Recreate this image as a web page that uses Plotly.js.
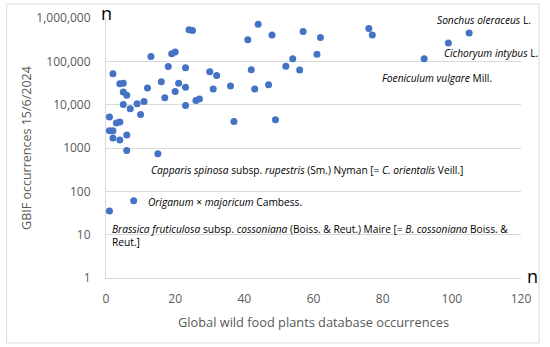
<!DOCTYPE html>
<html>
<head>
<meta charset="utf-8">
<script src="https://cdn.plot.ly/plotly-3.0.1.min.js"></script>
<style>
html,body{margin:0;padding:0;background:#fff;}
#chart{width:550px;height:347px;}
</style>
</head>
<body>
<div id="chart"></div>
<script>
// Global wild food plants database occurrences (x) vs GBIF occurrences (y)
const wfpOccurrences = [1, 1, 2, 2, 2, 3, 4, 4, 4, 5, 5, 6, 5, 6, 6, 7, 9, 10, 11, 12, 13, 15, 16, 17, 18, 19, 20, 20, 21, 23, 23, 23, 24, 25, 26, 27, 30, 31, 32, 36, 37, 41, 42, 43, 44, 47, 48, 49, 52, 54, 56, 57, 61, 62, 76, 77, 92, 99, 105, 8, 1];
const gbifOccurrences = [5200, 2500, 2500, 1700, 52000, 3800, 4000, 1530, 30500, 31000, 19600, 16500, 10100, 2000, 870, 8100, 10500, 5900, 11900, 24300, 130000, 740, 34000, 14500, 76000, 150000, 164000, 20000, 31000, 71000, 25300, 9600, 537000, 518000, 12400, 13500, 57700, 23000, 47400, 27000, 4100, 316000, 64000, 23000, 713000, 29000, 405000, 4500, 77000, 115000, 63000, 489000, 145000, 355000, 576000, 405000, 115000, 265000, 451000, 61, 35];

const yTickVals = [1, 10, 100, 1000, 10000, 100000, 1000000];
const yTickText = ["1", "10", "100", "1000", "10,000", "100,000", "1,000,000"];
const xTickVals = [0, 20, 40, 60, 80, 100, 120];

const labelTexts = [
  "<i>Sonchus oleraceus</i> L.",
  "<i>Cichoryum intybus</i> L.",
  "<i>Foeniculum vulgare</i> Mill.",
  "<i>Capparis spinosa</i> subsp. <i>rupestris</i> (Sm.) Nyman [= <i>C. orientalis</i> Veill.]",
  "<i>Origanum</i> × <i>majoricum</i> Cambess.",
  "<i>Brassica fruticulosa</i> subsp. <i>cossoniana</i> (Boiss. & Reut.) Maire [= <i>B. cossoniana</i> Boiss. &<br>Reut.]"
];
const labelX = [95.1, 97.1, 79.2, 12.5, 11.5, 1.1];
const labelLogY = [5.945, 5.193, 4.616, 2.499, 1.754, 0.976];

const fontFam = "Open Sans, sans-serif";
const annotations = labelTexts.map((t, i) => ({
  text: t, x: labelX[i], y: labelLogY[i], xref: "x", yref: "y",
  xanchor: "left", yanchor: "middle", align: "left", showarrow: false,
  font: {family: fontFam, size: 10.2, color: "#000"}
}));
annotations.push({text: "n", xref: "paper", yref: "paper", x: 0, y: 1, xanchor: "center", yanchor: "middle", showarrow: false, font: {family: fontFam, size: 18, color: "#000"}, yshift: 5});
annotations.push({text: "n", xref: "paper", yref: "paper", x: 1, y: 0, xanchor: "left", yanchor: "middle", showarrow: false, font: {family: fontFam, size: 18, color: "#000"}, xshift: 4, yshift: 2});

const trace = {
  x: wfpOccurrences, y: gbifOccurrences, type: "scatter", mode: "markers",
  marker: {color: "#4472C4", size: 7}, hoverinfo: "skip"
};

const layout = {
  width: 550, height: 347,
  margin: {l: 106, r: 29, t: 18, b: 69},
  paper_bgcolor: "#fff", plot_bgcolor: "#fff",
  showlegend: false,
  font: {family: fontFam, color: "#595959"},
  xaxis: {
    range: [0, 120], tickvals: xTickVals, showgrid: false, zeroline: false,
    showline: true, linecolor: "#d9d9d9", linewidth: 1,
    ticks: "outside", ticklen: 10, tickcolor: "rgba(0,0,0,0)",
    tickfont: {size: 12, color: "#595959"},
    title: {text: "Global wild food plants database occurrences", font: {size: 12.8, color: "#595959"}, standoff: 11}
  },
  yaxis: {
    type: "log", range: [0, 6], tickvals: yTickVals, ticktext: yTickText,
    showgrid: true, gridcolor: "#d9d9d9", gridwidth: 1, zeroline: false,
    showline: true, linecolor: "#d9d9d9", linewidth: 1,
    ticks: "outside", ticklen: 12, tickcolor: "rgba(0,0,0,0)",
    tickfont: {size: 12, color: "#595959"},
    title: {text: "GBIF occurrences 15/6/2024", font: {size: 12.5, color: "#595959"}, standoff: 1}
  },
  annotations: annotations,
  shapes: [{type: "rect", xref: "paper", yref: "paper", x0: -0.2395, x1: 1.0435, y0: -0.2496, y1: 1.0538, line: {color: "#d9d9d9", width: 1}}]
};

Plotly.newPlot("chart", [trace], layout, {displayModeBar: false, staticPlot: true});
</script>
</body>
</html>
